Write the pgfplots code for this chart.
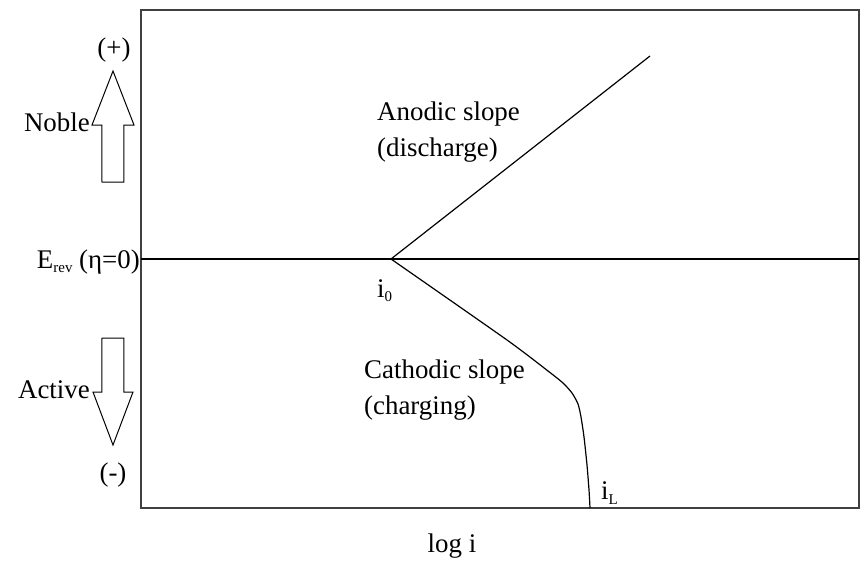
\documentclass[border=0pt]{standalone}
\usepackage{fontspec}
\setmainfont{Liberation Serif}
\usepackage{pgfplots}
\pgfplotsset{compat=1.18}
\newcommand{\sub}[1]{\raisebox{-0.35ex}{\fontsize{15}{15}\selectfont #1}}
\tikzset{lbl/.style={font=\fontsize{27}{36}\selectfont, inner sep=0pt, text=black}}
\begin{document}
\begin{tikzpicture}
\begin{axis}[
  scale only axis, width=718bp, height=498bp,
  xmin=141, xmax=859, ymin=10, ymax=508, y dir=reverse,
  axis line style={draw=black!75, line width=1.6bp},
  ticks=none, clip=false,
]
% reversible potential
\addplot[black, line width=1.3bp] coordinates {(141,259) (859,259)};
% anodic Tafel branch
\addplot[black, line width=1.2bp] coordinates {(391,259) (650,56)};
% cathodic branch bending into the limiting current
\addplot[black, line width=1.2bp, smooth, tension=0.4] coordinates {
  (391,259) (507,340) (548,371) (563,383) (572,393) (578,404)
  (581,417) (584,437) (587,465) (589,490) (590,508)};
% direction arrows
\addplot[black, line width=1bp, fill=white] coordinates {
  (102,182) (102,125) (92,125) (113,71) (134,125) (124,125) (124,182) (102,182)};
\addplot[black, line width=1bp, fill=white] coordinates {
  (102,338) (124,338) (124,392) (133,392) (113,445) (93,392) (102,392) (102,338)};
% labels
\node[lbl] at (axis cs:114,50) {(+)};
\node[lbl, anchor=east] at (axis cs:90,122) {Noble};
\node[lbl, anchor=east] at (axis cs:140,262) {E\sub{rev} (η=0)};
\node[lbl, anchor=east] at (axis cs:90,390) {Active};
\node[lbl] at (axis cs:113,475) {(-)};
\node[lbl, anchor=west, align=left] at (axis cs:377,132) {Anodic slope\\(discharge)};
\node[lbl, anchor=west, align=left] at (axis cs:364,390) {Cathodic slope\\(charging)};
\node[lbl, anchor=west] at (axis cs:377,291) {i\sub{0}};
\node[lbl, anchor=west] at (axis cs:601,493) {i\sub{L}};
\node[lbl] at (axis cs:452,546) {log i};
\path (axis cs:0,0) rectangle (axis cs:860,565);
\end{axis}
\end{tikzpicture}
\end{document}
